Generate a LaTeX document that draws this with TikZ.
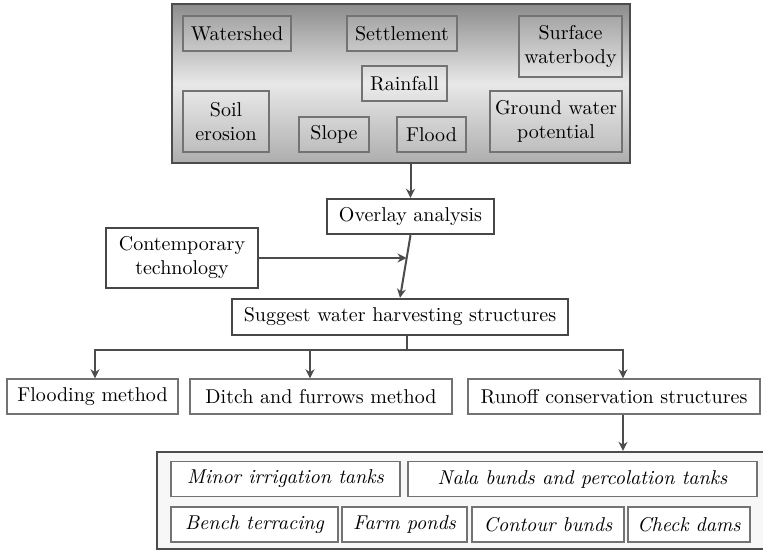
\documentclass[tikz,border=0pt]{standalone}
\usetikzlibrary{arrows.meta}
\pgfdeclareverticalshading{layershade}{100bp}{color(0bp)=(black!32); color(25bp)=(black!32);
  color(50bp)=(black!9); color(75bp)=(black!45); color(100bp)=(black!45)}

\begin{document}
\begin{tikzpicture}[
  x=.5pt,y=-.5pt,
  line/.style={draw=black!70,line width=1pt},
  arr/.style={line,-{Stealth[length=4.5pt,width=4.5pt]}},
  layer/.style={draw=black!55,line width=.6pt,fill=white,fill opacity=.12,text opacity=1,
    minimum height=17.5pt,inner sep=1pt,align=center},
  stepbox/.style={draw=black!72,line width=1.2pt,fill=white,minimum height=17.5pt,
    inner sep=2pt,align=center},
  method/.style={draw=black!55,line width=.7pt,fill=white,minimum height=17.5pt,inner sep=2pt},
  struct/.style={method,font=\itshape}
]
  \useasboundingbox (0,0) rectangle (763,551);
  % thematic layers
  \node[draw=black!70,line width=1.2pt,shading=layershade,
    minimum width=229pt,minimum height=79.5pt] (layers) at (401,83.5) {};
  \node[layer,minimum width=54pt] (watershed) at (237,33.5) {Watershed};
  \node[layer,minimum width=55pt] (settlement) at (402,33.5) {Settlement};
  \node[layer,minimum width=51.5pt,minimum height=30.5pt] (surface) at (570.5,46.5) {Surface\\waterbody};
  \node[layer,minimum width=42.5pt] (rainfall) at (404.5,83.5) {Rainfall};
  \node[layer,minimum width=43pt,minimum height=30.5pt] (soil) at (226,121.5) {Soil\\erosion};
  \node[layer,minimum width=35pt] (slope) at (334,134.5) {Slope};
  \node[layer,minimum width=34.5pt] (flood) at (431.5,134.5) {Flood};
  \node[layer,minimum width=66pt,minimum height=30.5pt] (ground) at (556,121.5) {Ground water\\potential};

  % analysis steps
  \node[stepbox,minimum width=83.5pt] (overlay) at (410.5,216.5) {Overlay analysis};
  \node[stepbox,minimum width=76pt,minimum height=30pt] (contemp) at (182,258) {Contemporary\\technology};
  \node[stepbox,minimum width=168pt,minimum height=18pt] (suggest) at (400,317) {Suggest water harvesting structures};
  \coordinate (join) at (406.5,258);
  \coordinate (split) at (407,350);

  \node[method,minimum width=85.5pt] (flooding) at (92.5,396.5) {Flooding method};
  \node[method,minimum width=131pt] (ditch) at (321,396.5) {Ditch and furrows method};
  \node[method,minimum width=146pt] (runoff) at (614,396.5) {Runoff conservation structures};

  % runoff structures
  \node[draw=black!70,line width=1.2pt,fill=black!3,minimum width=307.5pt,
    minimum height=48.5pt] (options) at (464.5,500.5) {};
  \node[struct,minimum width=114.5pt] (minor) at (285.5,479) {Minor irrigation tanks};
  \node[struct,minimum width=174.5pt] (nala) at (582.5,479) {Nala bunds and percolation tanks};
  \node[struct,minimum width=83.5pt] (bench) at (254.5,524.5) {Bench terracing};
  \node[struct,minimum width=62.5pt] (farm) at (404.5,524.5) {Farm ponds};
  \node[struct,minimum width=76pt] (contour) at (548,524.5) {Contour bunds};
  \node[struct,minimum width=61pt] (check) at (689,524.5) {Check dams};

  \draw[arr] (layers.south -| overlay.north) -- (overlay.north);
  \draw[arr] (overlay.south) -- (suggest.north);
  \draw[arr] (contemp.east) -- (join);
  \draw[line] ([xshift=3.5pt]suggest.south) -- (split);
  \draw[arr] (split) -| ([xshift=1.25pt]flooding.north);
  \draw[arr] (split) -| ([xshift=-5.5pt]ditch.north);
  \draw[arr] (split) -| ([xshift=4.5pt]runoff.north);
  \draw[arr] ([xshift=4.5pt]runoff.south) -- ([xshift=4.5pt]runoff.south |- options.north);
\end{tikzpicture}
\end{document}
